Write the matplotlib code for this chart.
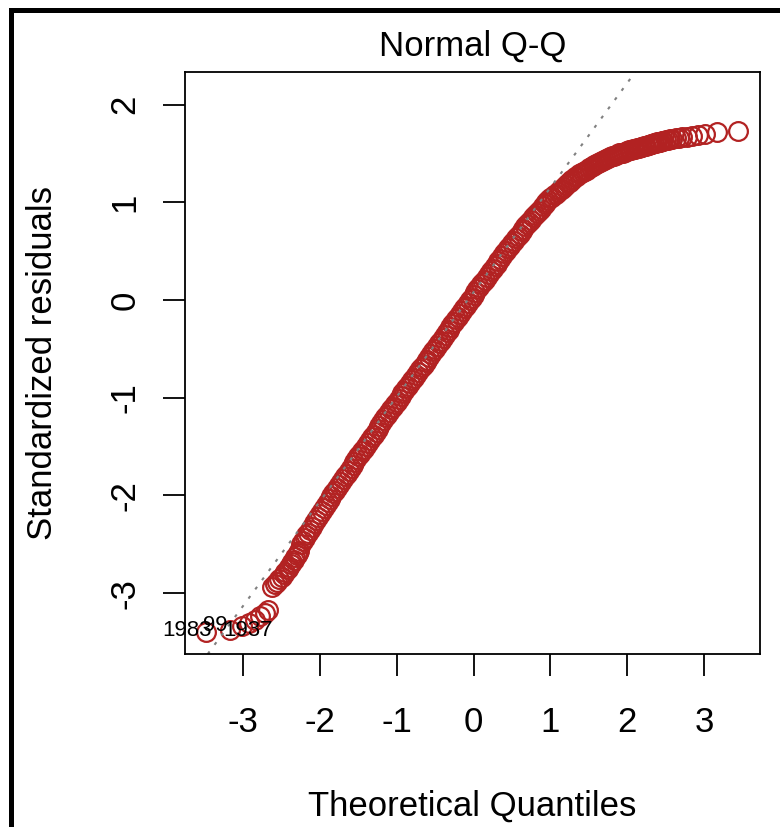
from __future__ import annotations

import matplotlib

matplotlib.use("Agg")
import matplotlib.pyplot as plt
from matplotlib.patches import Rectangle

# values (theoretical quantile, standardized residual)
TAIL_LOW_X = [-3.48, -3.17, -3.02, -2.92, -2.84, -2.78, -2.72, -2.67]
TAIL_LOW_Y = [-3.40, -3.38, -3.34, -3.31, -3.27, -3.23, -3.20, -3.17]

STEP_X = [-2.63, -2.59, -2.56, -2.53, -2.50, -2.47, -2.45, -2.42, -2.40, -2.38,
          -2.36, -2.34, -2.32, -2.30, -2.285, -2.27]
STEP_Y = [-2.94, -2.91, -2.89, -2.86, -2.83, -2.80, -2.78, -2.75, -2.73, -2.70,
          -2.68, -2.66, -2.63, -2.61, -2.59, -2.57]

BODY_X = [
    -2.250, -2.225, -2.200, -2.175, -2.150, -2.125, -2.100, -2.075, -2.050, -2.025,
    -2.000, -1.975, -1.950, -1.925, -1.900, -1.875, -1.850, -1.825, -1.800, -1.775,
    -1.750, -1.725, -1.700, -1.675, -1.650, -1.625, -1.600, -1.575, -1.550, -1.525,
    -1.500, -1.475, -1.450, -1.425, -1.400, -1.375, -1.350, -1.325, -1.300, -1.275,
    -1.250, -1.225, -1.200, -1.175, -1.150, -1.125, -1.100, -1.075, -1.050, -1.025,
    -1.000, -0.975, -0.950, -0.925, -0.900, -0.875, -0.850, -0.825, -0.800, -0.775,
    -0.750, -0.725, -0.700, -0.675, -0.650, -0.625, -0.600, -0.575, -0.550, -0.525,
    -0.500, -0.475, -0.450, -0.425, -0.400, -0.375, -0.350, -0.325, -0.300, -0.275,
    -0.250, -0.225, -0.200, -0.175, -0.150, -0.125, -0.100, -0.075, -0.050, -0.025,
    0.000, 0.025, 0.050, 0.075, 0.100, 0.125, 0.150, 0.175, 0.200, 0.225,
    0.250, 0.275, 0.300, 0.325, 0.350, 0.375, 0.400, 0.425, 0.450, 0.475,
    0.500, 0.525, 0.550, 0.575, 0.600, 0.625, 0.650, 0.675, 0.700, 0.725,
    0.750, 0.775, 0.800, 0.825, 0.850, 0.875, 0.900, 0.925, 0.950, 0.975,
    1.000, 1.025, 1.050, 1.075, 1.100, 1.125, 1.150, 1.175, 1.200, 1.225,
    1.250, 1.275, 1.300, 1.325, 1.350, 1.375, 1.400, 1.425, 1.450, 1.475,
    1.500, 1.525, 1.550, 1.575, 1.600, 1.625, 1.650, 1.675, 1.700, 1.725,
    1.750, 1.775, 1.800, 1.825, 1.850, 1.875, 1.900, 1.925, 1.950, 1.975,
    2.000, 2.025, 2.050, 2.075, 2.100, 2.125, 2.150, 2.175, 2.200, 2.225, 2.250,
]
BODY_Y = [
    -2.500, -2.470, -2.440, -2.410, -2.380, -2.350, -2.320, -2.285, -2.250, -2.220,
    -2.190, -2.160, -2.130, -2.100, -2.070, -2.040, -2.010, -1.980, -1.950, -1.920,
    -1.890, -1.860, -1.830, -1.805, -1.780, -1.750, -1.720, -1.690, -1.660, -1.630,
    -1.600, -1.575, -1.550, -1.520, -1.490, -1.460, -1.430, -1.405, -1.380, -1.350,
    -1.320, -1.290, -1.260, -1.230, -1.200, -1.175, -1.150, -1.120, -1.090, -1.065,
    -1.040, -1.010, -0.980, -0.955, -0.930, -0.905, -0.880, -0.850, -0.820, -0.795,
    -0.770, -0.740, -0.710, -0.685, -0.660, -0.635, -0.610, -0.580, -0.550, -0.525,
    -0.500, -0.470, -0.440, -0.415, -0.390, -0.360, -0.330, -0.305, -0.280, -0.250,
    -0.220, -0.195, -0.170, -0.140, -0.110, -0.085, -0.060, -0.030, 0.000, 0.025,
    0.050, 0.080, 0.110, 0.135, 0.160, 0.185, 0.210, 0.240, 0.270, 0.295,
    0.320, 0.345, 0.370, 0.395, 0.420, 0.450, 0.480, 0.505, 0.530, 0.555,
    0.580, 0.605, 0.630, 0.655, 0.680, 0.705, 0.730, 0.755, 0.780, 0.800,
    0.820, 0.845, 0.870, 0.890, 0.910, 0.935, 0.960, 0.980, 1.000, 1.020,
    1.040, 1.055, 1.070, 1.090, 1.110, 1.125, 1.140, 1.160, 1.180, 1.195,
    1.210, 1.225, 1.240, 1.255, 1.270, 1.285, 1.300, 1.310, 1.320, 1.335,
    1.350, 1.360, 1.370, 1.380, 1.390, 1.400, 1.410, 1.420, 1.430, 1.440,
    1.450, 1.460, 1.470, 1.475, 1.480, 1.490, 1.500, 1.505, 1.510, 1.520,
    1.530, 1.535, 1.540, 1.545, 1.550, 1.555, 1.560, 1.565, 1.570, 1.575, 1.580,
]

TAIL_HIGH_X = [2.27, 2.29, 2.31, 2.33, 2.35, 2.37, 2.39, 2.41, 2.43, 2.45, 2.47,
               2.50, 2.53, 2.56, 2.59, 2.63, 2.67, 2.72, 2.78, 2.84, 2.92, 3.02, 3.17, 3.45]
TAIL_HIGH_Y = [1.585, 1.590, 1.595, 1.600, 1.605, 1.610, 1.613, 1.617, 1.620, 1.625, 1.630,
               1.635, 1.640, 1.645, 1.650, 1.655, 1.660, 1.665, 1.670, 1.680, 1.690, 1.700,
               1.720, 1.730]

# qqline through the quartiles
LINE_INTERCEPT = 0.08
LINE_SLOPE = 1.07

ID_LABELS = ["1983", "99", "1937"]
ID_X = [-3.41, -3.21, -2.61]
ID_Y = [-3.38, -3.335, -3.385]

X_TICKS = [-3, -2, -1, 0, 1, 2, 3]
Y_TICKS = [-3, -2, -1, 0, 1, 2]

POINT_COLOR = "#B22222"
W, H = 780, 827


def main() -> None:
    plt.rcParams["font.family"] = ["Liberation Sans", "DejaVu Sans"]
    fig = plt.figure(figsize=(W / 100, H / 100), dpi=100)
    ax = fig.add_axes([185 / W, 1 - 654 / H, (760 - 185) / W, (654 - 72) / H])

    xs = TAIL_LOW_X + STEP_X + BODY_X + TAIL_HIGH_X
    ys = TAIL_LOW_Y + STEP_Y + BODY_Y + TAIL_HIGH_Y
    ax.plot(xs, ys, linestyle="none", marker="o", markersize=13.5,
            markerfacecolor="none", markeredgecolor=POINT_COLOR, markeredgewidth=1.6)
    ax.axline((0, LINE_INTERCEPT), slope=LINE_SLOPE, color="#808080",
              linewidth=1.5, linestyle=(0, (1.5, 4)))

    for label, x, y in zip(ID_LABELS, ID_X, ID_Y):
        ax.text(x, y, label, ha="right", va="center", fontsize=16, clip_on=False)

    ax.set_xlim(-3.757, 3.73)
    ax.set_ylim(-3.623, 2.334)
    ax.set_xticks(X_TICKS)
    ax.set_yticks(Y_TICKS)
    ax.set_xticklabels([str(t) for t in X_TICKS])
    ax.set_yticklabels([str(t) for t in Y_TICKS], rotation=90, va="center")
    ax.tick_params(axis="both", direction="out", length=15.8, width=1.3, labelsize=25)
    ax.tick_params(axis="x", pad=21.5)
    ax.tick_params(axis="y", pad=15.5)
    for spine in ax.spines.values():
        spine.set_linewidth(1.3)

    fig.text(472.5 / W, 1 - 56 / H, "Normal Q-Q", ha="center", va="baseline", fontsize=25)
    fig.text(472.5 / W, 1 - 816 / H, "Theoretical Quantiles", ha="center", va="baseline", fontsize=25)
    fig.text(52 / W, 1 - 363 / H, "Standardized residuals", ha="center", va="baseline",
             rotation=90, rotation_mode="anchor", fontsize=25)

    # black frame on the left and top edge of the screenshot
    fig.add_artist(Rectangle((10.5 / W, -0.1), 1.2, 1.1 - 10.5 / H, fill=False,
                             edgecolor="black", linewidth=3.6, transform=fig.transFigure,
                             clip_on=False))

    fig.savefig("out.png", dpi=100)
    plt.close(fig)


if __name__ == "__main__":
    main()
